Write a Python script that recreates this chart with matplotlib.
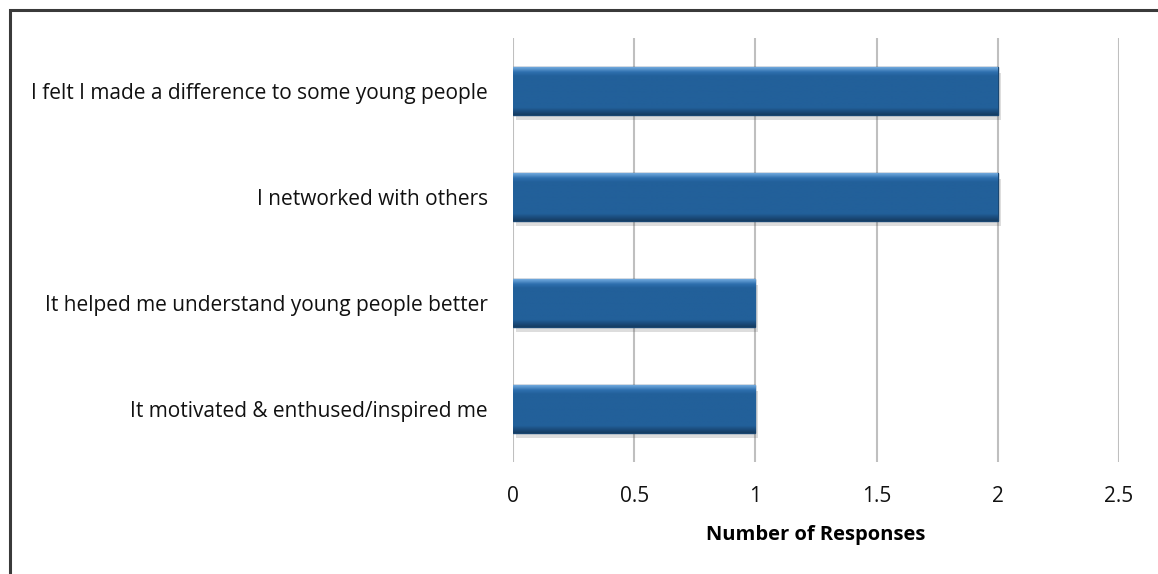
import numpy as np
import matplotlib.pyplot as plt
import matplotlib.patheffects as pe
from matplotlib.patches import Rectangle
from matplotlib.colors import LinearSegmentedColormap

categories = [
    "I felt I made a difference to some young people",
    "I networked with others",
    "It helped me understand young people better",
    "It motivated & enthused/inspired me",
]
responses = [2, 2, 1, 1]
xticks = [0, 0.5, 1, 1.5, 2, 2.5]
xtick_labels = ["0", "0.5", "1", "1.5", "2", "2.5"]

plt.rcParams["font.family"] = ["Open Sans", "DejaVu Sans"]

fig = plt.figure(figsize=(11.58, 5.74), dpi=100)
ax = fig.add_axes([0.443, 0.195, 0.5233, 0.7387])

# outer chart border (runs off the right and bottom of the image)
fig.patches.append(Rectangle((10 / 1158, -0.05), 1.2, 1 - 10 / 574 + 0.05,
                             transform=fig.transFigure, fill=False,
                             edgecolor="#3a3a3a", linewidth=2.2))

bars = ax.barh(range(len(categories)), responses, height=0.45,
               color="#22609A", edgecolor="#1A4772", linewidth=1.0, zorder=3)

# bevel look: vertical gradient clipped to each bar
bevel = LinearSegmentedColormap.from_list(
    "bevel", [(0.0, "#6FA8DC"), (0.10, "#2E6FAE"), (0.18, "#22609A"),
              (0.85, "#22609A"), (0.93, "#1B4C7C"), (1.0, "#163D63")])
grad = np.linspace(0, 1, 100).reshape(-1, 1)
for b in bars:
    b.set_path_effects([pe.SimplePatchShadow(offset=(2, -4), alpha=0.2, shadow_rgbFace="#555555"),
                        pe.Normal()])
    x0, y0 = b.get_x(), b.get_y()
    w, h = b.get_width(), b.get_height()
    im = ax.imshow(grad, cmap=bevel, aspect="auto", zorder=3.5,
                   extent=[x0, x0 + w, y0 + h, y0], origin="upper")
    im.set_clip_path(b)

ax.set_xlim(0, 2.5)
ax.set_ylim(len(categories) - 0.5, -0.5)
ax.set_xticks(xticks)
ax.set_xticklabels(xtick_labels, fontsize=15, color="#111111")
ax.set_yticks(range(len(categories)))
ax.set_yticklabels(categories, fontsize=15, color="#111111")
ax.tick_params(axis="both", length=0)
ax.tick_params(axis="y", pad=18)
ax.tick_params(axis="x", pad=17)
ax.grid(axis="x", color="#BFBFBF", linewidth=1.5, zorder=0)
ax.set_axisbelow(True)
for s in ax.spines.values():
    s.set_visible(False)

ax.set_xlabel("Number of Responses", fontsize=14.5, fontweight="bold", labelpad=13)

fig.savefig("out.png", dpi=100)
